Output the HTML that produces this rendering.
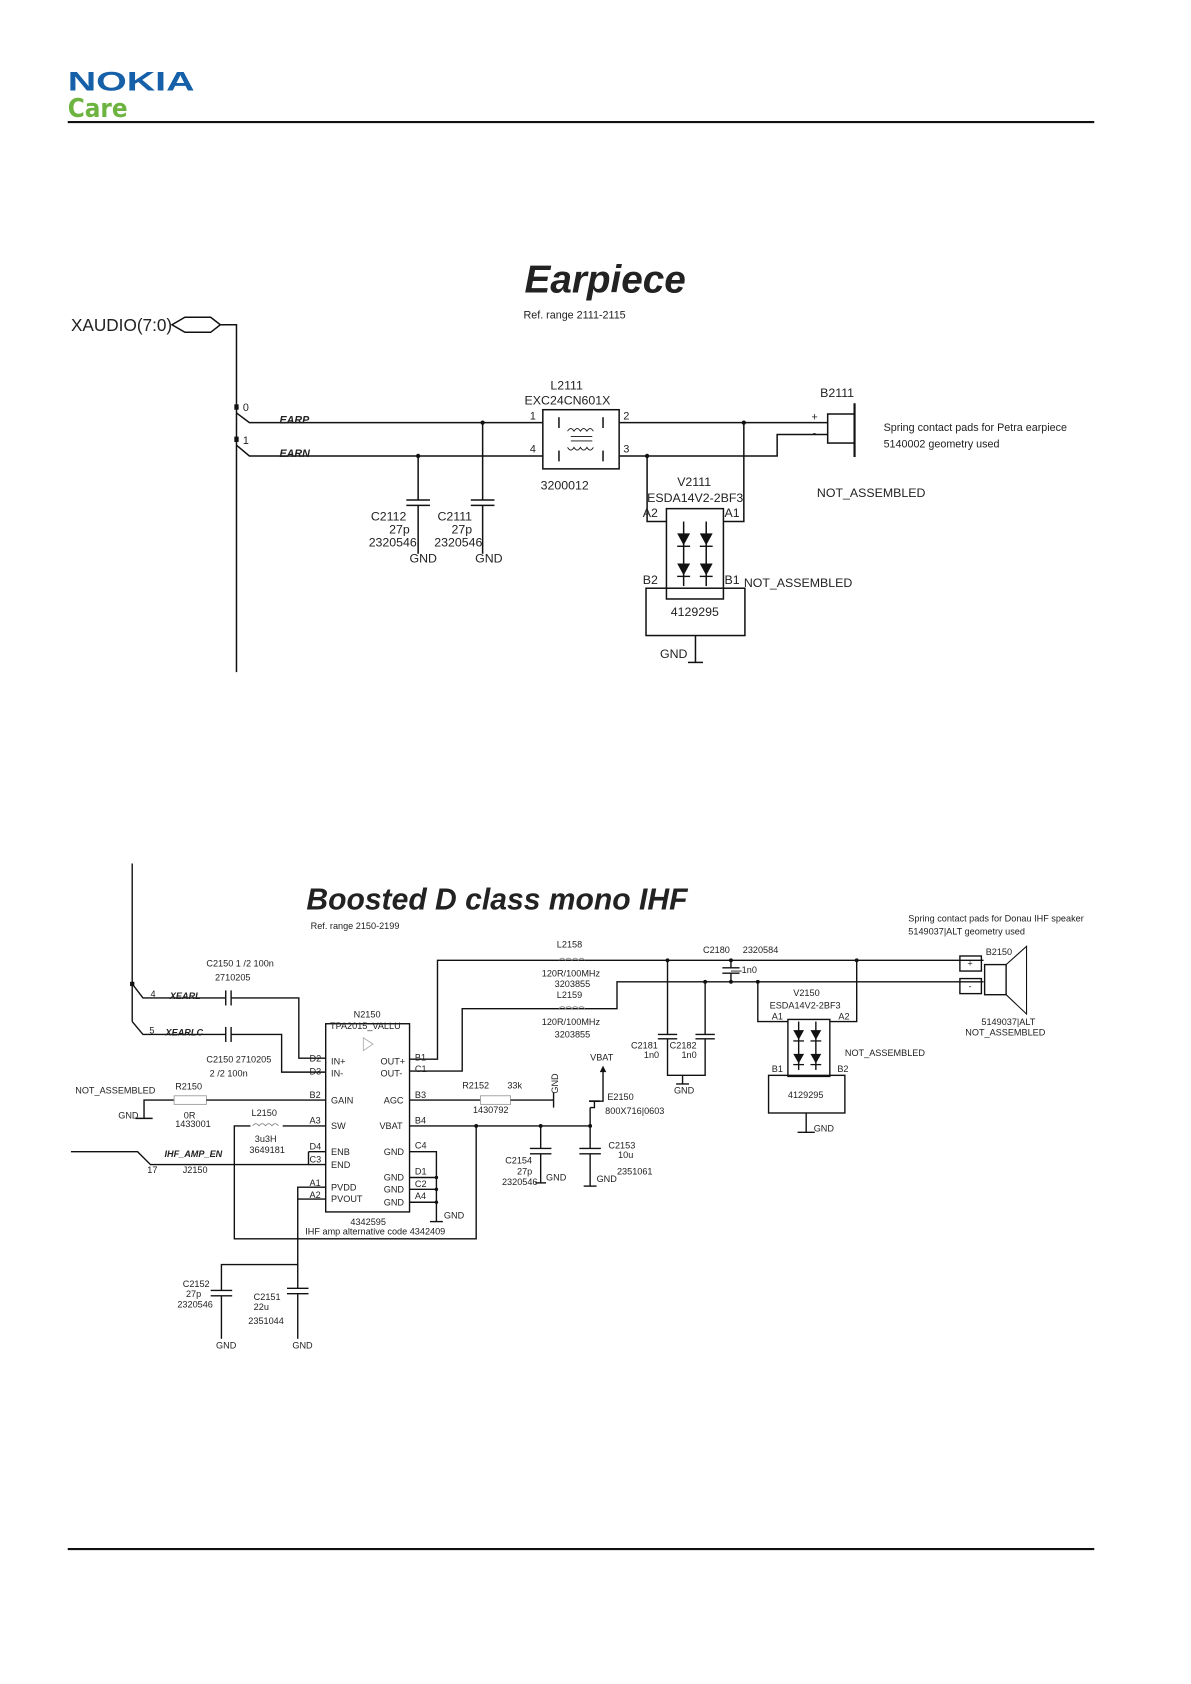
<!DOCTYPE html>
<html><head><meta charset="utf-8"><style>
html,body{margin:0;padding:0;background:#fff;}
svg{display:block;}
text{font-family:"Liberation Sans",Arial,sans-serif;fill:#222;}
.s{font-size:10px;}
.m{font-size:11.5px;}
.t{font-size:8.5px;}
</style></head><body>
<svg width="1191" height="1684" viewBox="0 0 1108 1566" preserveAspectRatio="none" xmlns="http://www.w3.org/2000/svg">
<g fill="none" stroke="#111" stroke-width="1.4">
<line x1="63" y1="113.5" x2="1018" y2="113.5" stroke-width="2"/>
<line x1="63" y1="1440.5" x2="1018" y2="1440.5" stroke-width="2"/>

<polygon points="160,302 172,295 196,295 205,302 196,309 172,309"/>
<polyline points="205,302 220,302 220,625"/>
<polyline points="220,384 232,393 505,393"/>
<polyline points="220,414 232,424 505,424"/>
<rect x="505" y="381" width="71" height="55"/>
<line x1="576" y1="393" x2="770" y2="393"/>
<polyline points="576,424 723,424 723,404 770,404"/>
<line x1="520" y1="388" x2="520" y2="398"/><line x1="561" y1="388" x2="561" y2="398"/>
<line x1="520" y1="419" x2="520" y2="429"/><line x1="561" y1="419" x2="561" y2="429"/>
<path d="M528,401 q3,-5 6,0 q3,-5 6,0 q3,-5 6,0 q3,-5 6,0" stroke-width="0.8"/>
<path d="M528,416 q3,5 6,0 q3,5 6,0 q3,5 6,0 q3,5 6,0" stroke-width="0.8"/>
<line x1="531" y1="406" x2="551" y2="406" stroke-width="0.8"/><line x1="531" y1="410" x2="551" y2="410" stroke-width="0.8"/>
<rect x="770" y="385" width="25" height="27"/>
<line x1="795" y1="375" x2="795" y2="425" stroke-width="2"/>
<polyline points="389,424 389,465"/><line x1="378" y1="465" x2="400" y2="465"/><line x1="378" y1="470" x2="400" y2="470"/><line x1="389" y1="470" x2="389" y2="515"/>
<polyline points="449,393 449,465"/><line x1="438" y1="465" x2="460" y2="465"/><line x1="438" y1="470" x2="460" y2="470"/><line x1="449" y1="470" x2="449" y2="515"/>
<polyline points="602,424 602,485 620,485"/>
<polyline points="692,393 692,485 673,485"/>
<rect x="620" y="473" width="53" height="84"/>
<line x1="636" y1="485" x2="636" y2="545"/><line x1="657" y1="485" x2="657" y2="545"/>
<rect x="601" y="547" width="92" height="44"/>
<polyline points="647,591 647,616"/><line x1="640" y1="616" x2="654" y2="616"/>
</g>
<g fill="#111">
<circle cx="449" cy="393" r="2"/><circle cx="389" cy="424" r="2"/><circle cx="692" cy="393" r="2"/><circle cx="602" cy="424" r="2"/>
<rect x="218" y="376" width="4" height="5"/><rect x="218" y="406" width="4" height="5"/>
<polygon points="630,496 642,496 636,507"/><polygon points="651,496 663,496 657,507"/>
<polygon points="630,524 642,524 636,535"/><polygon points="651,524 663,524 657,535"/>
</g>
<g stroke="#111" stroke-width="1.3"><line x1="630" y1="508" x2="642" y2="508"/><line x1="651" y1="508" x2="663" y2="508"/><line x1="630" y1="536" x2="642" y2="536"/><line x1="651" y1="536" x2="663" y2="536"/></g>

<text x="63" y="84" textLength="118" lengthAdjust="spacingAndGlyphs" style="font-size:25px;font-weight:bold;fill:#1560a8">NOKIA</text>
<text x="63" y="109" style="font-size:24px;font-weight:bold;fill:#6db33f;font-family:'DejaVu Sans Condensed','Liberation Sans',sans-serif">Care</text>

<text x="488" y="272" style="font-size:36px;font-weight:bold;font-style:italic">Earpiece</text>
<text x="487" y="296" class="s">Ref. range 2111-2115</text>
<text x="66" y="308" style="font-size:16px">XAUDIO(7:0)</text>
<text x="226" y="382" class="s">0</text><text x="226" y="413" class="s">1</text>
<text x="260" y="394" class="s" style="font-weight:bold;font-style:italic">EARP</text>
<text x="260" y="425" class="s" style="font-weight:bold;font-style:italic">EARN</text>
<text x="512" y="362" class="m">L2111</text>
<text x="488" y="376" class="m">EXC24CN601X</text>
<text x="493" y="390" class="s">1</text><text x="580" y="390" class="s">2</text>
<text x="493" y="421" class="s">4</text><text x="580" y="421" class="s">3</text>
<text x="503" y="455" class="m">3200012</text>
<text x="763" y="369" class="m">B2111</text>
<text x="755" y="391" class="s">+</text><text x="756" y="406" class="s">-</text>
<text x="822" y="401" class="s">Spring contact pads for Petra earpiece</text>
<text x="822" y="416" class="s">5140002 geometry used</text>
<text x="760" y="462" class="m">NOT_ASSEMBLED</text>
<text x="630" y="452" class="m">V2111</text>
<text x="602" y="467" class="m">ESDA14V2-2BF3</text>
<text x="598" y="481" class="m">A2</text><text x="674" y="481" class="m">A1</text>
<text x="598" y="543" class="m">B2</text><text x="674" y="543" class="m">B1</text>
<text x="692" y="546" class="m">NOT_ASSEMBLED</text>
<text x="624" y="573" class="m">4129295</text>
<text x="614" y="612" class="m">GND</text>
<text x="345" y="484" class="m">C2112</text><text x="362" y="496" class="m">27p</text><text x="343" y="508" class="m">2320546</text>
<text x="407" y="484" class="m">C2111</text><text x="420" y="496" class="m">27p</text><text x="404" y="508" class="m">2320546</text>
<text x="381" y="523" class="m">GND</text><text x="442" y="523" class="m">GND</text>

<g fill="none" stroke="#111" stroke-width="1.3">
<line x1="123" y1="803" x2="123" y2="950"/>
<polyline points="123,915 133,928 210,928"/><polyline points="215,928 278,928 278,984 303,984"/>
<polyline points="123,950 133,962 210,962"/><polyline points="215,962 262,962 262,997 303,997"/>
<line x1="210" y1="921" x2="210" y2="935"/><line x1="215" y1="921" x2="215" y2="935"/>
<line x1="210" y1="955" x2="210" y2="969"/><line x1="215" y1="955" x2="215" y2="969"/>
<rect x="303" y="952" width="78" height="175"/>
<polygon points="338,965 347,971 338,977" stroke="#aaa" stroke-width="0.8"/>
<polyline points="134,1040 134,1023 162,1023"/><line x1="126" y1="1040" x2="142" y2="1040"/>
<rect x="162" y="1019" width="30" height="8" stroke="#999" stroke-width="0.8"/>
<line x1="192" y1="1023" x2="303" y2="1023"/>
<polyline points="303,1047 263,1047"/><polyline points="233,1047 218,1047 218,1152 443,1152 443,1047"/>
<path d="M235,1047 q3,-4 6,0 q3,-4 6,0 q3,-4 6,0 q3,-4 6,0" stroke="#888" stroke-width="0.8"/>
<polyline points="66,1071 128,1071 140,1083 303,1083"/>
<polyline points="287,1071 303,1071"/><line x1="287" y1="1071" x2="287" y2="1083"/>
<polyline points="303,1104 277,1104 277,1176 206,1176 206,1200"/><line x1="277" y1="1115" x2="303" y2="1115"/>
<line x1="196" y1="1200" x2="216" y2="1200"/><line x1="196" y1="1205" x2="216" y2="1205"/><line x1="206" y1="1205" x2="206" y2="1245"/>
<line x1="277" y1="1176" x2="277" y2="1198"/>
<line x1="267" y1="1198" x2="287" y2="1198"/><line x1="267" y1="1203" x2="287" y2="1203"/><line x1="277" y1="1203" x2="277" y2="1245"/>
<polyline points="381,985 407,985 407,893 915,893"/>
<polyline points="381,996 430,996 430,938 574,938 574,913 915,913"/>
<path d="M520,893 q3,-4 6,0 q3,-4 6,0 q3,-4 6,0 q3,-4 6,0" stroke="#888" stroke-width="0.8"/>
<path d="M520,938 q3,-4 6,0 q3,-4 6,0 q3,-4 6,0 q3,-4 6,0" stroke="#888" stroke-width="0.8"/>
<line x1="381" y1="1023" x2="447" y2="1023"/><rect x="447" y="1019" width="28" height="8" stroke="#999" stroke-width="0.8"/>
<line x1="475" y1="1023" x2="515" y2="1023"/><line x1="515" y1="1016" x2="515" y2="1030"/>
<line x1="381" y1="1047" x2="549" y2="1047"/>
<polyline points="381,1071 406,1071 406,1136"/><line x1="381" y1="1095" x2="406" y2="1095"/><line x1="381" y1="1106" x2="406" y2="1106"/><line x1="381" y1="1118" x2="406" y2="1118"/><line x1="400" y1="1136" x2="412" y2="1136"/>
<line x1="503" y1="1047" x2="503" y2="1068"/><line x1="493" y1="1068" x2="513" y2="1068"/><line x1="493" y1="1073" x2="513" y2="1073"/><line x1="503" y1="1073" x2="503" y2="1100"/><line x1="498" y1="1100" x2="508" y2="1100"/>
<line x1="549" y1="1030" x2="549" y2="1068"/><line x1="539" y1="1068" x2="559" y2="1068"/><line x1="539" y1="1073" x2="559" y2="1073"/><line x1="549" y1="1073" x2="549" y2="1103"/><line x1="543" y1="1103" x2="555" y2="1103"/>
<polyline points="549,1030 553,1030 553,1024 561,1024 561,995"/><line x1="548" y1="1024" x2="558" y2="1024" stroke-width="1.6"/>
<line x1="680" y1="893" x2="680" y2="900"/><line x1="672" y1="900" x2="688" y2="900"/><line x1="672" y1="905" x2="688" y2="905"/><line x1="680" y1="905" x2="680" y2="913"/><line x1="680" y1="903" x2="690" y2="903" stroke-width="0.8"/>
<line x1="621" y1="893" x2="621" y2="962"/><line x1="612" y1="962" x2="630" y2="962"/><line x1="612" y1="966" x2="630" y2="966"/>
<line x1="656" y1="913" x2="656" y2="962"/><line x1="647" y1="962" x2="665" y2="962"/><line x1="647" y1="966" x2="665" y2="966"/>
<polyline points="621,966 621,1000 656,1000 656,966"/><line x1="635" y1="1000" x2="635" y2="1008"/><line x1="629" y1="1008" x2="641" y2="1008"/>
<polyline points="705,913 705,950 733,950"/><polyline points="797,893 797,950 772,950"/>
<rect x="733" y="948" width="39" height="53"/>
<line x1="743" y1="950" x2="743" y2="995"/><line x1="759" y1="950" x2="759" y2="995"/>
<rect x="715" y="1000" width="71" height="35"/>
<line x1="750" y1="1035" x2="750" y2="1053"/><line x1="742" y1="1053" x2="758" y2="1053"/>
<rect x="893" y="889" width="20" height="14"/><rect x="893" y="910" width="20" height="14"/>
<rect x="916" y="897" width="20" height="28"/>
<polyline points="936,897 955,880 955,943 936,925" stroke-width="1"/>
</g>
<g fill="#111">
<rect x="121" y="913" width="4" height="4"/>
<circle cx="621" cy="893" r="1.8"/><circle cx="656" cy="913" r="1.8"/><circle cx="680" cy="893" r="1.8"/><circle cx="680" cy="913" r="1.8"/><circle cx="705" cy="913" r="1.8"/><circle cx="797" cy="893" r="1.8"/>
<circle cx="443" cy="1047" r="1.8"/><circle cx="503" cy="1047" r="1.8"/><circle cx="549" cy="1047" r="1.8"/>
<circle cx="406" cy="1095" r="1.6"/><circle cx="406" cy="1106" r="1.6"/><circle cx="406" cy="1118" r="1.6"/>
<polygon points="738,958 748,958 743,967"/><polygon points="754,958 764,958 759,967"/>
<polygon points="738,980 748,980 743,989"/><polygon points="754,980 764,980 759,989"/>
<polygon points="558,997 561,991 564,997"/>
</g>
<g stroke="#111" stroke-width="1.2"><line x1="738" y1="968" x2="748" y2="968"/><line x1="754" y1="968" x2="764" y2="968"/><line x1="738" y1="990" x2="748" y2="990"/><line x1="754" y1="990" x2="764" y2="990"/></g>

<text x="285" y="846" style="font-size:28px;font-weight:bold;font-style:italic">Boosted D class mono IHF</text>
<text x="289" y="864" class="t">Ref. range 2150-2199</text>
<text x="140" y="927" class="t">4</text><text x="158" y="929" class="t" style="font-weight:bold;font-style:italic">XEARL</text>
<text x="139" y="961" class="t">5</text><text x="154" y="963" class="t" style="font-weight:bold;font-style:italic">XEARLC</text>
<text x="192" y="899" class="t">C2150  1 /2 100n</text><text x="200" y="912" class="t">2710205</text>
<text x="192" y="988" class="t">C2150  2710205</text><text x="195" y="1001" class="t">2 /2 100n</text>
<text x="329" y="946" class="t">N2150</text><text x="307" y="957" class="t">TPA2015_VALLU</text>
<text x="288" y="987" class="t">D2</text><text x="288" y="999" class="t">D3</text><text x="288" y="1021" class="t">B2</text><text x="288" y="1045" class="t">A3</text><text x="288" y="1069" class="t">D4</text><text x="288" y="1081" class="t">C3</text><text x="288" y="1103" class="t">A1</text><text x="288" y="1114" class="t">A2</text>
<text x="308" y="990" class="t">IN+</text><text x="308" y="1001" class="t">IN-</text><text x="308" y="1026" class="t">GAIN</text><text x="308" y="1050" class="t">SW</text><text x="308" y="1074" class="t">ENB</text><text x="308" y="1086" class="t">END</text><text x="308" y="1107" class="t">PVDD</text><text x="308" y="1118" class="t">PVOUT</text>
<text x="354" y="990" class="t">OUT+</text><text x="354" y="1001" class="t">OUT-</text><text x="357" y="1026" class="t">AGC</text><text x="353" y="1050" class="t">VBAT</text><text x="357" y="1074" class="t">GND</text><text x="357" y="1098" class="t">GND</text><text x="357" y="1109" class="t">GND</text><text x="357" y="1121" class="t">GND</text>
<text x="386" y="986" class="t">B1</text><text x="386" y="997" class="t">C1</text><text x="386" y="1021" class="t">B3</text><text x="386" y="1045" class="t">B4</text><text x="386" y="1068" class="t">C4</text><text x="386" y="1092" class="t">D1</text><text x="386" y="1104" class="t">C2</text><text x="386" y="1115" class="t">A4</text>
<text x="70" y="1017" class="t">NOT_ASSEMBLED</text><text x="163" y="1013" class="t">R2150</text>
<text x="110" y="1040" class="t">GND</text><text x="171" y="1040" class="t">0R</text><text x="163" y="1048" class="t">1433001</text>
<text x="234" y="1038" class="t">L2150</text><text x="237" y="1062" class="t">3u3H</text><text x="232" y="1072" class="t">3649181</text>
<text x="153" y="1076" class="t" style="font-weight:bold;font-style:italic">IHF_AMP_EN</text>
<text x="137" y="1091" class="t">17</text><text x="170" y="1091" class="t">J2150</text>
<text x="326" y="1139" class="t">4342595</text><text x="284" y="1148" class="t">IHF amp alternative code 4342409</text>
<text x="413" y="1133" class="t">GND</text>
<text x="170" y="1197" class="t">C2152</text><text x="173" y="1206" class="t">27p</text><text x="165" y="1216" class="t">2320546</text>
<text x="236" y="1209" class="t">C2151</text><text x="236" y="1218" class="t">22u</text><text x="231" y="1231" class="t">2351044</text>
<text x="201" y="1254" class="t">GND</text><text x="272" y="1254" class="t">GND</text>
<text x="518" y="881" class="t">L2158</text><text x="504" y="908" class="t">120R/100MHz</text><text x="516" y="918" class="t">3203855</text>
<text x="518" y="928" class="t">L2159</text><text x="504" y="953" class="t">120R/100MHz</text><text x="516" y="965" class="t">3203855</text>
<text x="430" y="1012" class="t">R2152</text><text x="472" y="1012" class="t">33k</text><text x="440" y="1035" class="t">1430792</text>
<text x="0" y="0" class="t" transform="translate(519,1017) rotate(-90)">GND</text>
<text x="549" y="986" class="t">VBAT</text>
<text x="565" y="1023" class="t">E2150</text><text x="563" y="1036" class="t">800X716|0603</text>
<text x="470" y="1082" class="t">C2154</text><text x="481" y="1092" class="t">27p</text><text x="467" y="1102" class="t">2320546</text><text x="508" y="1098" class="t">GND</text>
<text x="566" y="1068" class="t">C2153</text><text x="575" y="1077" class="t">10u</text><text x="574" y="1092" class="t">2351061</text><text x="555" y="1099" class="t">GND</text>
<text x="654" y="886" class="t">C2180</text><text x="691" y="886" class="t">2320584</text><text x="690" y="905" class="t">1n0</text>
<text x="587" y="975" class="t">C2181</text><text x="599" y="984" class="t">1n0</text><text x="623" y="975" class="t">C2182</text><text x="634" y="984" class="t">1n0</text>
<text x="627" y="1017" class="t">GND</text>
<text x="738" y="926" class="t">V2150</text><text x="716" y="938" class="t">ESDA14V2-2BF3</text>
<text x="718" y="948" class="t">A1</text><text x="780" y="948" class="t">A2</text>
<text x="718" y="997" class="t">B1</text><text x="779" y="997" class="t">B2</text>
<text x="733" y="1021" class="t">4129295</text><text x="757" y="1052" class="t">GND</text>
<text x="786" y="982" class="t">NOT_ASSEMBLED</text>
<text x="845" y="857" class="t">Spring contact pads for Donau IHF speaker</text><text x="845" y="869" class="t">5149037|ALT geometry used</text>
<text x="917" y="888" class="t">B2150</text>
<text x="900" y="899" class="t">+</text><text x="901" y="920" class="t">-</text>
<text x="913" y="953" class="t">5149037|ALT</text><text x="898" y="963" class="t">NOT_ASSEMBLED</text>
</svg>
</body></html>
